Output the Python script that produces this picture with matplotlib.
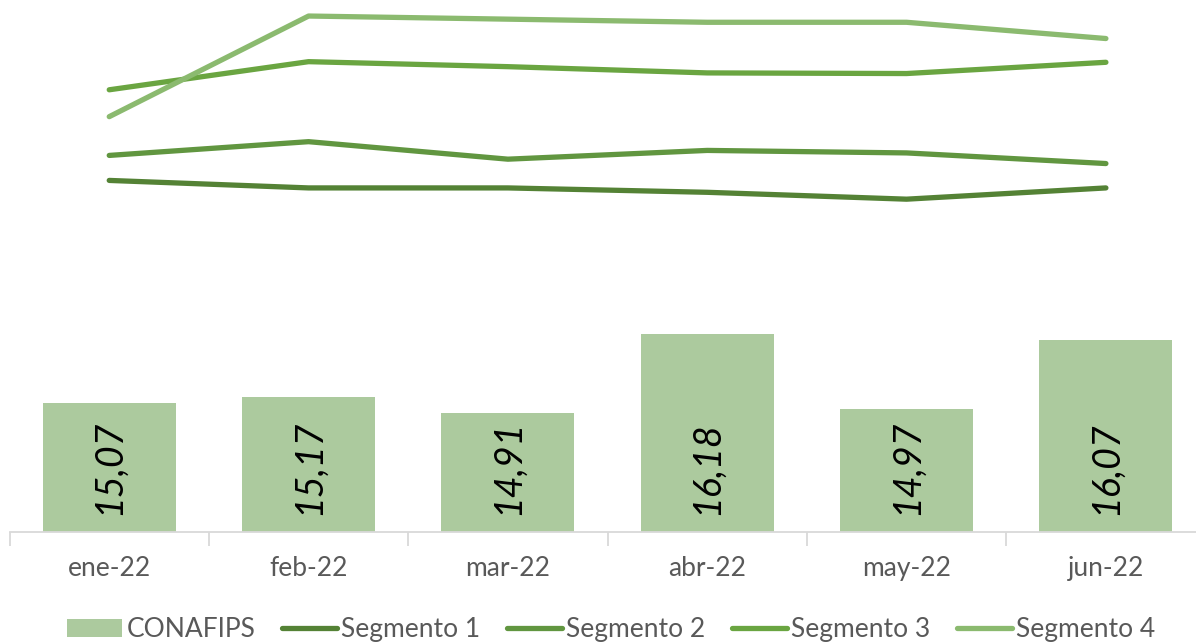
import matplotlib.pyplot as plt
from matplotlib.ticker import FixedLocator

plt.rcParams['font.family'] = ['Lato', 'DejaVu Sans']

# datos
meses = ['ene-22', 'feb-22', 'mar-22', 'abr-22', 'may-22', 'jun-22']
conafips = [15.07, 15.17, 14.91, 16.18, 14.97, 16.07]
segmento1 = [18.63, 18.51, 18.51, 18.44, 18.33, 18.51]
segmento2 = [19.03, 19.25, 18.97, 19.11, 19.07, 18.90]
segmento3 = [20.08, 20.53, 20.45, 20.35, 20.34, 20.52]
segmento4 = [19.65, 21.26, 21.21, 21.16, 21.16, 20.90]

x = list(range(len(meses)))

fig = plt.figure(figsize=(11.96, 6.44), dpi=100)
ax = fig.add_axes([0.008, 0.1734, 1.0, 0.825])

barras = ax.bar(x, conafips, width=0.667, color='#ACCA9E', label='CONAFIPS', zorder=2)
handles = [barras]

lineas = [
    (segmento1, '#548235', 'Segmento 1'),
    (segmento2, '#619640', 'Segmento 2'),
    (segmento3, '#6AA541', 'Segmento 3'),
    (segmento4, '#8BBA6F', 'Segmento 4'),
]
for vals, col, lab in lineas:
    ln, = ax.plot(x, vals, color=col, lw=3.8, label=lab, solid_capstyle='round', zorder=3)
    handles.append(ln)

# etiquetas de las barras
for xi, v in zip(x, conafips):
    ax.text(xi, 13.27, f'{v:.2f}'.replace('.', ','), rotation=90, ha='center', va='bottom',
            fontsize=27, style='italic', color='black', zorder=4)

ax.set_xlim(-0.5, 5.5)
ax.set_ylim(13, 21.5)

for s in ['top', 'right', 'left']:
    ax.spines[s].set_visible(False)
ax.spines['bottom'].set_color('#D9D9D9')
ax.spines['bottom'].set_linewidth(1.3)
ax.set_yticks([])

ax.set_xticks(x)
ax.set_xticklabels(meses, fontsize=19, color='#595959')
ax.tick_params(axis='x', which='major', length=0, pad=17)
ax.xaxis.set_minor_locator(FixedLocator([i - 0.5 for i in range(7)]))
ax.tick_params(axis='x', which='minor', length=10, width=1.3, color='#D9D9D9')

fig.legend(handles=handles, loc='center', bbox_to_anchor=(0.511, 0.022), ncol=5, frameon=False,
           fontsize=19, handlelength=2.1, handletextpad=0.15, columnspacing=1.0,
           labelcolor='#595959', borderpad=0, borderaxespad=0)

fig.savefig('out.png', dpi=100)
